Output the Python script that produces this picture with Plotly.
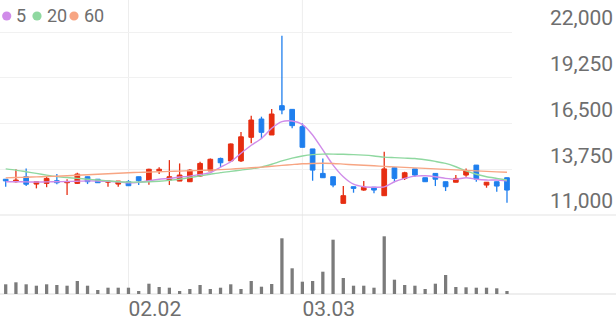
import plotly.graph_objects as go

dates = ["01.15", "01.16", "01.19", "01.20", "01.21", "01.22", "01.23", "01.26", "01.27", "01.28",
         "01.29", "01.30", "02.02", "02.03", "02.04", "02.05", "02.06", "02.09", "02.10", "02.11",
         "02.12", "02.13", "02.19", "02.20", "02.23", "02.24", "02.25", "02.26", "02.27", "03.03",
         "03.04", "03.05", "03.06", "03.09", "03.10", "03.11", "03.12", "03.13", "03.16", "03.17",
         "03.18", "03.19", "03.20", "03.23", "03.24", "03.25", "03.26", "03.27", "03.30", "03.31"]

opens = [13150, 13000, 13300, 12860, 12900, 13060, 12940, 12900, 13300, 13150,
         12970, 12860, 13000, 13300, 13060, 13660, 13100, 13040, 13000, 13340,
         13650, 14400, 14250, 14250, 15670, 16770, 15810, 17570, 17350, 16310,
         14970, 13500, 13300, 11700, 12700, 12500, 12670, 12160, 13840, 13200,
         13770, 13240, 13500, 13000, 12970, 13400, 14000, 12800, 13000, 13240]
highs = [13150, 13750, 13800, 13000, 13300, 13460, 13150, 13540, 13300, 13150,
         13050, 13050, 13100, 13300, 13780, 13870, 14300, 14100, 13750, 14200,
         14400, 14450, 15300, 15990, 16970, 16910, 17370, 21780, 17350, 16510,
         14970, 14400, 13300, 12740, 12700, 13040, 12670, 14800, 13840, 13600,
         13770, 13240, 13500, 13000, 13400, 13800, 14000, 12970, 13000, 13240]
lows = [12700, 12950, 12750, 12600, 12670, 12850, 12200, 12860, 12860, 12940,
        12700, 12700, 12760, 12800, 12820, 13460, 12800, 13040, 13000, 13300,
        13650, 13870, 14250, 14190, 15310, 15610, 15810, 17050, 16210, 15070,
        13060, 13240, 12670, 11700, 12340, 12460, 12300, 12160, 12970, 13100,
        13300, 13000, 12740, 12440, 12970, 13300, 13000, 12640, 12400, 11740]
closes = [13050, 13100, 12850, 13000, 13200, 12940, 13000, 13460, 13000, 12940,
          13040, 13040, 12760, 13060, 13750, 13750, 13300, 13400, 13700, 14100,
          14350, 14140, 15270, 15700, 16710, 15970, 17070, 17310, 16370, 15070,
          13700, 13240, 12800, 12160, 12600, 12670, 12500, 13770, 13200, 13540,
          13400, 13000, 13150, 12700, 13200, 13650, 13160, 12970, 12740, 12500]

volumes = [485, 585, 485, 415, 485, 450, 415, 650, 415, 200,
           315, 315, 315, 150, 515, 350, 315, 150, 250, 450,
           250, 315, 485, 250, 650, 365, 500, 2785, 1285, 615,
           650, 1115, 2715, 800, 415, 415, 315, 2885, 715, 450,
           415, 250, 515, 950, 350, 335, 315, 315, 285, 150]

ma5 = [13000, 13000, 12990, 12980, 12990, 13000, 13010, 13030, 13050, 13040,
       13020, 13000, 12930, 12960, 13060, 13150, 13200, 13280, 13340, 13440,
       13540, 13870, 14200, 14710, 15190, 15600, 16210, 16610, 16650, 16450,
       15810, 14910, 14000, 13300, 12850, 12700, 12670, 12690, 13000, 13200,
       13340, 13360, 13300, 13200, 13150, 13240, 13150, 13100, 13100, 13060]
ma20 = [13770, 13700, 13600, 13500, 13400, 13310, 13250, 13200, 13150, 13100,
        13050, 13000, 12980, 12980, 13000, 13030, 13080, 13150, 13250, 13350,
        13450, 13550, 13620, 13700, 13770, 13880, 14050, 14250, 14420, 14550,
        14630, 14660, 14660, 14650, 14630, 14600, 14550, 14480, 14450, 14420,
        14400, 14320, 14220, 14100, 13900, 13650, 13450, 13300, 13200, 13100]
ma60 = [13230, 13250, 13270, 13290, 13310, 13330, 13360, 13390, 13420, 13450,
        13480, 13510, 13540, 13560, 13580, 13600, 13620, 13640, 13660, 13680,
        13700, 13730, 13760, 13800, 13840, 13880, 13930, 13980, 14030, 14080,
        14100, 14110, 14100, 14060, 14020, 13990, 13960, 13920, 13890, 13860,
        13830, 13800, 13770, 13740, 13710, 13680, 13650, 13620, 13590, 13570]

price_ticks = [11000, 13750, 16500, 19250, 22000]
date_ticks = ["02.02", "03.03"]
ma_names = ["5", "20", "60"]

RED = "#e62e12"
BLUE = "#1f7fee"
MA_COLORS = ["#d08ce9", "#8fd8a0", "#f7a583"]
GRAY_TXT = "#6e6e6e"

W_PLOT = 512
H_PLOT = 294
PRICE_BOTTOM_PX = 215
VOL_TOP_PX = 230

fig = go.Figure()

up = [c >= o for o, c in zip(opens, closes)]
colors = [RED if u else BLUE for u in up]

# wicks
for flag, col in [(True, RED), (False, BLUE)]:
    xs, ys = [], []
    for d, h, l, u in zip(dates, highs, lows, up):
        if u == flag:
            xs += [d, d, None]
            ys += [l, h, None]
    fig.add_trace(go.Scatter(x=xs, y=ys, mode="lines", line=dict(color=col, width=1.3),
                             hoverinfo="skip", xaxis="x", yaxis="y"))

# bodies
fig.add_trace(go.Bar(
    x=dates,
    y=[abs(c - o) for o, c in zip(opens, closes)],
    base=[min(o, c) for o, c in zip(opens, closes)],
    marker=dict(color=colors, line=dict(color=colors, width=1)),
    width=0.46, xaxis="x", yaxis="y"))

# moving averages
for vals, col in zip([ma5, ma20, ma60], MA_COLORS):
    fig.add_trace(go.Scatter(x=dates, y=vals, mode="lines",
                             line=dict(color=col, width=1.4, shape="spline", smoothing=0.6),
                             xaxis="x", yaxis="y"))

# volume
fig.add_trace(go.Bar(x=dates, y=volumes, marker=dict(color="#7b7b7b", line=dict(width=0)),
                     width=0.32, xaxis="x", yaxis="y2"))

price_dom0 = 1 - PRICE_BOTTOM_PX / H_PLOT
vol_dom1 = 1 - VOL_TOP_PX / H_PLOT
px_per_unit = (PRICE_BOTTOM_PX - 32) / (price_ticks[-1] - price_ticks[0])
price_top = price_ticks[0] + PRICE_BOTTOM_PX / px_per_unit

shapes = []
for d in date_ticks:
    idx = dates.index(d)
    shapes.append(dict(type="line", xref="x", yref="paper", x0=idx, x1=idx, y0=0, y1=1,
                       line=dict(color="#ededed", width=1), layer="below"))
for yy, col in [(price_dom0, "#e4e4e4"), (0, "#dedede")]:
    shapes.append(dict(type="line", xref="paper", yref="paper", x0=0, x1=616 / W_PLOT,
                       y0=yy, y1=yy, line=dict(color=col, width=1.2), layer="below"))

annotations = []
dot_x = [6.7, 37, 74]
txt_x = [15, 45.5, 82.5]
for name, col, dx, tx in zip(ma_names, MA_COLORS, dot_x, txt_x):
    shapes.append(dict(type="circle", xref="paper", yref="paper", xsizemode="pixel",
                       ysizemode="pixel", xanchor=dx / W_PLOT, yanchor=1 - 16 / H_PLOT,
                       x0=-4.6, x1=4.6, y0=-4.6, y1=4.6, fillcolor=col,
                       line=dict(width=0)))
    annotations.append(dict(text=name, xref="paper", yref="paper", x=tx / W_PLOT,
                            y=1 - 15.5 / H_PLOT, xanchor="left", yanchor="middle",
                            showarrow=False, borderpad=0,
                            font=dict(size=18, color=GRAY_TXT)))

fig.update_layout(
    width=616, height=321,
    margin=dict(l=0, r=616 - W_PLOT, t=0, b=321 - H_PLOT),
    paper_bgcolor="white", plot_bgcolor="white",
    showlegend=False, barmode="overlay",
    font=dict(family="Roboto", color=GRAY_TXT),
    xaxis=dict(anchor="y2", type="category", categoryorder="array", categoryarray=dates,
               range=[-0.557, 49.49],
               tickmode="array", tickvals=date_ticks, showgrid=False, zeroline=False,
               showline=False, ticks="", ticklabelposition="outside right",
               tickfont=dict(size=21, color=GRAY_TXT), fixedrange=True),
    yaxis=dict(anchor="x", domain=[price_dom0, 1], range=[price_ticks[0], price_top],
               side="right", tickmode="array", tickvals=price_ticks,
               ticktext=[f"{v:,}" for v in price_ticks],
               showgrid=True, gridcolor="#f1f1f1", gridwidth=1, zeroline=False,
               ticks="", ticklabelstandoff=37, ticklabelshift=-14,
               tickfont=dict(size=21, color=GRAY_TXT), fixedrange=True),
    yaxis2=dict(anchor="x", domain=[0, vol_dom1], range=[0, 3200],
                showgrid=False, showticklabels=False, zeroline=False, fixedrange=True),
    shapes=shapes,
    annotations=annotations,
)

fig.write_html("out.html")
